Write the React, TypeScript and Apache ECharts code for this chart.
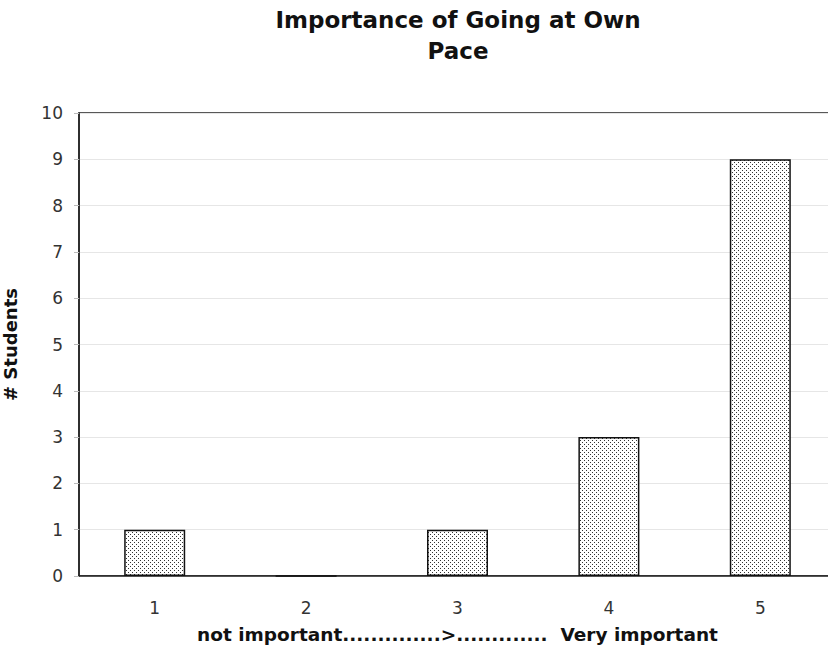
import React, { useEffect, useRef } from "react";
import * as echarts from "echarts";

const categories = ["1", "2", "3", "4", "5"];
const students = [1, 0, 1, 3, 9];
const yTicks = [0, 10, 1]; // min, max, interval

const titleLines = ["Importance of Going at Own", "Pace"];
const xName = "not important..............>.............  Very important";
const yName = "# Students";

function makePattern(): HTMLCanvasElement {
  const c = document.createElement("canvas");
  c.width = 4;
  c.height = 4;
  const ctx = c.getContext("2d")!;
  ctx.fillStyle = "#ffffff";
  ctx.fillRect(0, 0, 4, 4);
  ctx.fillStyle = "#333333";
  ctx.fillRect(0, 0, 1, 1);
  ctx.fillRect(2, 2, 1, 1);
  return c;
}

export default function App() {
  const ref = useRef<HTMLDivElement>(null);
  useEffect(() => {
    if (!ref.current) return;
    const chart = echarts.init(ref.current, undefined, { renderer: "svg" });
    const font = "'DejaVu Sans', Verdana, sans-serif";
    chart.setOption({
      animation: false,
      backgroundColor: "#ffffff",
      graphic: [
        {
          type: "text",
          x: 458,
          y: 4,
          style: {
            text: titleLines.join("\n"),
            textAlign: "center",
            textVerticalAlign: "top",
            font: `bold 23px ${font}`,
            lineHeight: 31,
            fill: "#111",
          },
        },
      ],
      grid: {
        left: 79,
        top: 113,
        right: -8,
        bottom: 75,
        show: true,
        borderColor: "#222",
        borderWidth: 1.5,
        containLabel: false,
        outerBoundsMode: "none",
      },
      xAxis: {
        type: "category",
        data: categories,
        name: xName,
        nameLocation: "middle",
        nameGap: 49,
        nameTextStyle: { fontFamily: font, fontWeight: "bold", fontSize: 18.5, color: "#111" },
        axisLine: { lineStyle: { color: "#222", width: 1.5 } },
        axisTick: { show: false },
        axisLabel: { fontFamily: font, fontSize: 17, color: "#333", margin: 23 },
      },
      yAxis: {
        type: "value",
        min: yTicks[0],
        max: yTicks[1],
        interval: yTicks[2],
        name: yName,
        nameLocation: "middle",
        nameGap: 60,
        nameRotate: 90,
        nameTextStyle: { fontFamily: font, fontWeight: "bold", fontSize: 18, color: "#111" },
        axisLine: { show: true, lineStyle: { color: "#222", width: 1.5 } },
        axisTick: { show: true, inside: false, length: 5, lineStyle: { color: "#bbb" } },
        axisLabel: { fontFamily: font, fontSize: 17, color: "#333", margin: 16 },
        splitLine: { lineStyle: { color: "#e6e6e6", width: 1 } },
      },
      series: [
        {
          type: "bar",
          data: students,
          barWidth: 61,
          itemStyle: {
            color: { image: makePattern(), repeat: "repeat" },
            borderColor: "#111",
            borderWidth: 1.5,
          },
        },
      ],
    });
    return () => chart.dispose();
  }, []);
  return (
    <div
      ref={ref}
      style={{ position: "fixed", left: 0, top: 0, width: 828, height: 651 }}
    />
  );
}
